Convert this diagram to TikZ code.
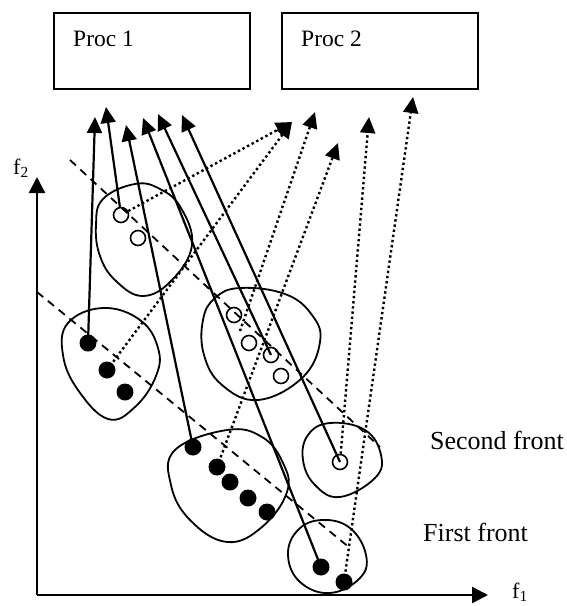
\documentclass[tikz,border=0pt]{standalone}
\usepackage{fontspec}
\setmainfont{Liberation Serif}
\usetikzlibrary{arrows.meta}
\begin{document}
\begin{tikzpicture}[x=1pt,y=-1pt,
  blob/.style={line width=1.8pt, line join=round},
  fdot/.style={circle, fill=black, inner sep=0pt, minimum size=17pt},
  odot/.style={circle, draw, line width=1.6pt, inner sep=0pt, minimum size=15pt},
  sarrow/.style={line width=2.2pt, -{Triangle[length=16pt,width=15pt]}},
  darrow/.style={line width=2.4pt, dash pattern=on 2.4pt off 2.8pt, -{Triangle[length=16pt,width=15pt]}},
  frontline/.style={line width=1.8pt, dash pattern=on 8pt off 6pt},
  axisline/.style={line width=2.4pt, -{Triangle[length=16pt,width=16pt]}},
  procbox/.style={draw, line width=1.8pt, minimum width=196pt, minimum height=76pt, anchor=north west, inner sep=0pt},
  proclbl/.style={inner sep=0pt, anchor=base west, font=\fontsize{23.5}{28}\selectfont},
  frontlbl/.style={inner sep=0pt, anchor=base west, font=\fontsize{26}{30}\selectfont},
  axlbl/.style={inner sep=0pt, anchor=base west, font=\fontsize{22}{26}\selectfont},
]
\useasboundingbox (0,0) rectangle (566,606);

% process boxes
\node[procbox] (P1) at (53,12) {};
\node[procbox] (P2) at (281,12) {};
\node[proclbl] (P1t) at (73,46) {Proc 1};
\node[proclbl] (P2t) at (301,46) {Proc 2};

% axes
\coordinate (O) at (37,595);
\coordinate (Ytip) at (37,177);
\coordinate (Xtip) at (488,595);
\draw[axisline] (O) -- (Ytip);
\draw[axisline] (O) -- (Xtip);
\node[axlbl] (f2) at (13,174) {f\textsubscript{2}};
\node[axlbl] (f1) at (512,598) {f\textsubscript{1}};

% front lines
\coordinate (SF1) at (70,160);
\coordinate (SF2) at (380,447);
\coordinate (FF1) at (37,292);
\coordinate (FF2) at (350,548);
\draw[frontline] (SF1) -- (SF2);
\draw[frontline] (FF1) -- (FF2);

% labels
\node[frontlbl] (secf) at (430,449) {Second front};
\node[frontlbl] (firf) at (423,541) {First front};

% blobs
\draw[blob] plot[smooth cycle, tension=0.7] coordinates {(135,184) (160,189) (181,208) (192,245) (172,280) (143,296) (116,281) (100,256) (96,225) (103,199)};
\draw[blob] plot[smooth cycle, tension=0.7] coordinates {(103,308) (140,320) (158,348) (156,376) (135,407) (108,419) (78,390) (63,355) (68,323)};
\draw[blob] plot[smooth cycle, tension=0.7] coordinates {(240,288) (285,294) (312,315) (320,342) (302,378) (258,400) (222,385) (204,355) (203,320) (215,298)};
\draw[blob] plot[smooth cycle, tension=0.7] coordinates {(227,430) (262,437) (283,463) (287,492) (262,527) (227,542) (190,520) (171,485) (175,450)};
\draw[blob] plot[smooth cycle, tension=0.7] coordinates {(330,423) (365,430) (381,455) (375,478) (340,497) (315,485) (303,460) (308,435)};
\draw[blob] plot[smooth cycle, tension=0.7] coordinates {(322,520) (350,528) (366,555) (360,578) (330,593) (300,582) (288,555) (298,530)};

% points: second front (open)
\node[odot] (D1) at (121,215) {};
\node[odot] (D2) at (138,238) {};
\node[odot] (E1) at (234,315) {};
\node[odot] (E2) at (249,343) {};
\node[odot] (E3) at (271,355) {};
\node[odot] (E4) at (281,376) {};
\node[odot] (F1) at (340,462) {};

% points: first front (filled)
\node[fdot] (A1) at (88,343) {};
\node[fdot] (A2) at (107,370) {};
\node[fdot] (A3) at (125,392) {};
\node[fdot] (B1) at (193,447) {};
\node[fdot] (B2) at (217,467) {};
\node[fdot] (B3) at (230,482) {};
\node[fdot] (B4) at (248,498) {};
\node[fdot] (B5) at (267,512) {};
\node[fdot] (C1) at (321,567) {};
\node[fdot] (C2) at (344,582) {};

% arrow tips
\coordinate (S1) at (95,117);
\coordinate (S2) at (106,107);
\coordinate (S3) at (126,125);
\coordinate (S4) at (143,118);
\coordinate (S5) at (158,114);
\coordinate (S6) at (182,115);
\coordinate (T1) at (292,122);
\coordinate (T2) at (315,112);
\coordinate (T3) at (338,143);
\coordinate (T4) at (369,117);
\coordinate (T5) at (413,97);
\coordinate (E1b) at (240,331);

% solid arrows to Proc 1
\draw[sarrow] (A1.center) -- (S1);
\draw[sarrow] (D1) -- (S2);
\draw[sarrow] (B1.center) -- (S3);
\draw[sarrow] (C1.center) -- (S4);
\draw[sarrow] (E3.center) -- (S5);
\draw[sarrow] (F1.center) -- (S6);

% dotted arrows to Proc 2
\draw[darrow] (D1) -- (T1);
\draw[darrow] (A2.center) -- (T1);
\draw[darrow] (E1b) -- (T2);
\draw[darrow] (B2.center) -- (T3);
\draw[darrow] (F1) -- (T4);
\draw[darrow] (C2.center) -- (T5);
\end{tikzpicture}
\end{document}
